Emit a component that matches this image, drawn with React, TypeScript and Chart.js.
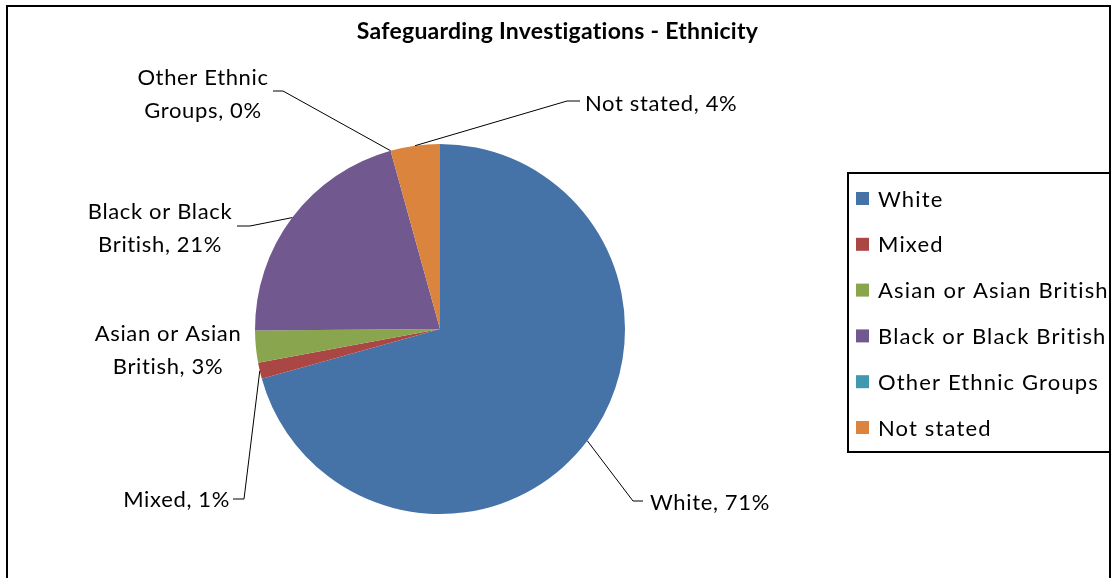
import React, { useEffect, useRef } from "react";
import { Chart, registerables } from "chart.js";

Chart.register(...registerables);

// ---------- data ----------
const TITLE = "Safeguarding Investigations - Ethnicity";
const categories = [
  "White",
  "Mixed",
  "Asian or Asian British",
  "Black or Black British",
  "Other Ethnic Groups",
  "Not stated",
];
const values = [70.6, 1.4, 2.8, 20.8, 0, 4.3];
const colors = ["#4572A7", "#AA4643", "#89A54E", "#71588F", "#4198AF", "#DB843D"];

// ---------- layout / style ----------
const W = 1114;
const H = 578;
const FONT = "Lato, 'DejaVu Sans', sans-serif";
const LABEL_SIZE = 22;
const LEGEND_SIZE = 22;
const TITLE_SIZE = 23;

type LabelLayout = {
  tx: number;
  ty: number;
  align: CanvasTextAlign;
  maxW: number;
  elbow: [number, number] | null;
  end: [number, number] | null;
};
const LABEL_LAYOUT: LabelLayout[] = [
  { tx: 210, ty: 174, align: "left", maxW: 400, elbow: [193, 172], end: [203, 172] },
  { tx: -210, ty: 171, align: "right", maxW: 400, elbow: [-196, 170], end: [-207, 170] },
  { tx: -272, ty: 5, align: "center", maxW: 175, elbow: null, end: null },
  { tx: -280, ty: -117, align: "center", maxW: 175, elbow: [-190, -103], end: [-203, -103] },
  { tx: -237, ty: -251, align: "center", maxW: 160, elbow: [-157, -238], end: [-167, -238] },
  { tx: 145, ty: -225, align: "left", maxW: 400, elbow: [127, -228], end: [140, -228] },
];
const LINE_H = 33;

const LEGEND_BOX = { x: 848, y: 173, w: 262, h: 279 };
const LEGEND_ROW0 = 198.5;
const LEGEND_STEP = 45.8;

function wrap(ctx: CanvasRenderingContext2D, text: string, maxW: number): string[] {
  const words = text.split(" ");
  const lines: string[] = [];
  let cur = "";
  for (const w of words) {
    const test = cur ? cur + " " + w : w;
    if (cur && ctx.measureText(test).width > maxW) {
      lines.push(cur);
      cur = w;
    } else cur = test;
  }
  if (cur) lines.push(cur);
  return lines;
}

function setSpacing(ctx: any, px: number) {
  if ("letterSpacing" in ctx) ctx.letterSpacing = `${px}px`;
}

const decorPlugin = {
  id: "decor",
  afterDraw(chart: any) {
    const ctx: CanvasRenderingContext2D = chart.ctx;
    ctx.save();
    // outer frame
    ctx.strokeStyle = "#000";
    ctx.lineWidth = 2;
    ctx.strokeRect(7, 6, 1103, 700);

    // title
    ctx.fillStyle = "#000";
    ctx.font = `bold ${TITLE_SIZE}px ${FONT}`;
    setSpacing(ctx, 0.25);
    ctx.textAlign = "center";
    ctx.textBaseline = "middle";
    ctx.fillText(TITLE, 557.5, 32);

    // data labels with leader lines
    const meta = chart.getDatasetMeta(0);
    const total = values.reduce((a, b) => a + b, 0);
    ctx.font = `${LABEL_SIZE}px ${FONT}`;
    setSpacing(ctx, 0.65);
    meta.data.forEach((arc: any, i: number) => {
      const p = arc.getProps(["x", "y", "startAngle", "endAngle", "outerRadius"], true);
      const mid = (p.startAngle + p.endAngle) / 2;
      const ax = p.x + Math.cos(mid) * p.outerRadius;
      const ay = p.y + Math.sin(mid) * p.outerRadius;
      const L = LABEL_LAYOUT[i];
      const pct = Math.round((values[i] / total) * 100);
      const text = `${categories[i]}, ${pct}%`;
      const lines = wrap(ctx, text, L.maxW);
      if (L.elbow && L.end) {
        ctx.beginPath();
        ctx.strokeStyle = "#000";
        ctx.lineWidth = 1;
        ctx.moveTo(ax, ay);
        ctx.lineTo(p.x + L.elbow[0], p.y + L.elbow[1]);
        ctx.lineTo(p.x + L.end[0], p.y + L.end[1]);
        ctx.stroke();
      }
      ctx.fillStyle = "#000";
      ctx.textAlign = L.align;
      ctx.textBaseline = "middle";
      lines.forEach((ln, k) => {
        ctx.fillText(ln, p.x + L.tx, p.y + L.ty + k * LINE_H);
      });
    });

    // legend
    setSpacing(ctx, 0);
    ctx.lineWidth = 2;
    ctx.strokeStyle = "#000";
    ctx.strokeRect(LEGEND_BOX.x, LEGEND_BOX.y, LEGEND_BOX.w, LEGEND_BOX.h);
    ctx.font = `${LEGEND_SIZE}px ${FONT}`;
    setSpacing(ctx, 1.15);
    ctx.textAlign = "left";
    ctx.textBaseline = "middle";
    categories.forEach((c, i) => {
      const cy = LEGEND_ROW0 + i * LEGEND_STEP;
      ctx.fillStyle = colors[i];
      ctx.fillRect(856, cy - 6.5, 13, 13);
      ctx.fillStyle = "#000";
      ctx.fillText(c, 878, cy + 1);
    });
    ctx.restore();
  },
};

export default function App() {
  const ref = useRef<HTMLCanvasElement | null>(null);
  useEffect(() => {
    if (!ref.current) return;
    const chart = new Chart(ref.current, {
      type: "pie",
      data: {
        labels: categories,
        datasets: [
          {
            data: values,
            backgroundColor: colors,
            borderWidth: 0,
          },
        ],
      },
      options: {
        responsive: false,
        animation: false,
        devicePixelRatio: 1,
        layout: { padding: { left: 255, right: 489, top: 144, bottom: 64 } },
        plugins: {
          legend: { display: false },
          tooltip: { enabled: false },
          title: { display: false },
        },
      },
      plugins: [decorPlugin],
    });
    return () => chart.destroy();
  }, []);
  return (
    <div style={{ position: "fixed", left: 0, top: 0, width: W, height: H, background: "#fff" }}>
      <canvas ref={ref} width={W} height={H} style={{ display: "block", width: W, height: H }} />
    </div>
  );
}
